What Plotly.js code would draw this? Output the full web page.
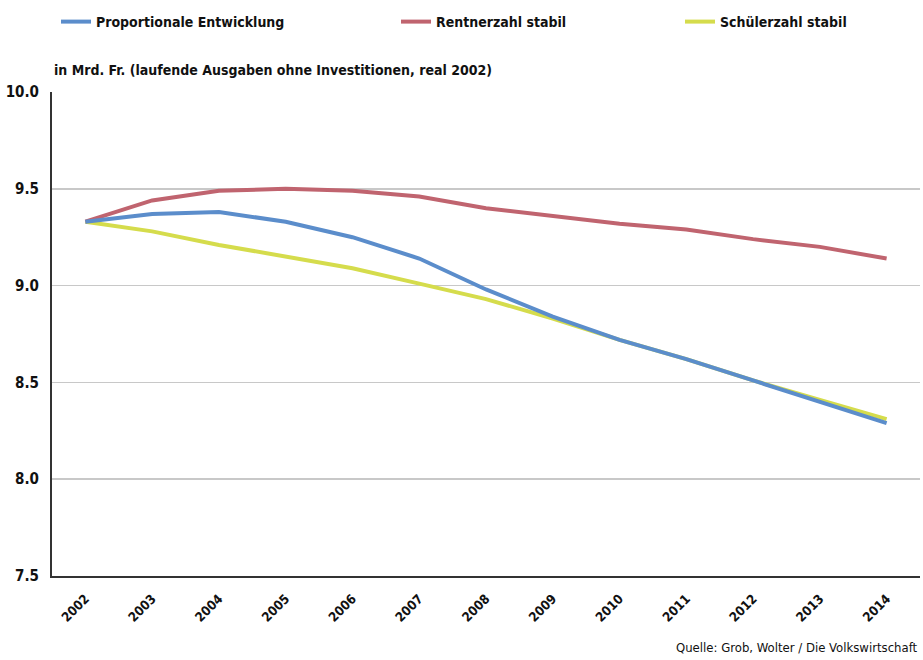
<!DOCTYPE html>
<html>
<head>
<meta charset="utf-8">
<script src="https://cdn.plot.ly/plotly-3.0.1.min.js"></script>
<style>html,body{margin:0;padding:0;background:#fff;}#chart{width:923px;height:660px;}</style>
</head>
<body>
<div id="chart"></div>
<script>
const years = ['2002','2003','2004','2005','2006','2007','2008','2009','2010','2011','2012','2013','2014'];
const proportional = [9.33, 9.37, 9.38, 9.33, 9.25, 9.14, 8.98, 8.84, 8.72, 8.62, 8.51, 8.40, 8.29];
const rentner = [9.33, 9.44, 9.49, 9.50, 9.49, 9.46, 9.40, 9.36, 9.32, 9.29, 9.24, 9.20, 9.14];
const schueler = [9.33, 9.28, 9.21, 9.15, 9.09, 9.01, 8.93, 8.83, 8.72, 8.62, 8.51, 8.41, 8.31];
const seriesNames = ['Proportionale Entwicklung', 'Rentnerzahl stabil', 'Schülerzahl stabil'];
const yTicks = [7.5, 8.0, 8.5, 9.0, 9.5, 10.0];

const FONT = 'DejaVu Sans Condensed, Liberation Sans Narrow, sans-serif';
const colors = ['#5b8dcb', '#c0646f', '#d5dc4c'];

const traces = [
  {x: years, y: schueler, name: seriesNames[2], legend: 'legend3'},
  {x: years, y: rentner, name: seriesNames[1], legend: 'legend2'},
  {x: years, y: proportional, name: seriesNames[0], legend: 'legend'}
].map((t, i) => Object.assign(t, {
  type: 'scatter', mode: 'lines',
  line: {color: [colors[2], colors[1], colors[0]][i], width: 4},
  hoverinfo: 'skip'
}));

const legBase = {
  orientation: 'h', xref: 'container', yref: 'container',
  xanchor: 'left', yanchor: 'middle', y: 1 - 22/660,
  font: {family: FONT, size: 14, color: '#111', weight: 'bold'},
  bgcolor: 'rgba(0,0,0,0)'
};

const layout = {
  width: 923, height: 660,
  margin: {l: 52, r: 3, t: 92, b: 84},
  paper_bgcolor: '#fff', plot_bgcolor: '#fff',
  font: {family: FONT, color: '#111'},
  showlegend: true,
  legend: Object.assign({}, legBase, {x: 56/923}),
  legend2: Object.assign({}, legBase, {x: 396/923}),
  legend3: Object.assign({}, legBase, {x: 680/923}),
  xaxis: {
    type: 'category', tickangle: -45, range: [-0.5, 12.5],
    showgrid: false, zeroline: false,
    showline: true, linecolor: '#333', linewidth: 2,
    ticks: '', ticklabelstandoff: 8,
    tickfont: {family: FONT, size: 13, color: '#111', weight: 'bold'},
    fixedrange: true
  },
  yaxis: {
    range: [7.5, 10.0], tickvals: yTicks, tickformat: '.1f',
    showgrid: true, gridcolor: '#c8c8c8', gridwidth: 1.5,
    zeroline: false, showline: true, linecolor: '#333', linewidth: 2,
    ticks: '', ticklabelstandoff: 8,
    tickfont: {family: FONT, size: 15, color: '#111', weight: 'bold'},
    fixedrange: true
  },
  annotations: [
    {text: 'in Mrd. Fr. (laufende Ausgaben ohne Investitionen, real 2002)',
     xref: 'paper', yref: 'paper', x: 0, y: 1, yshift: 12,
     xanchor: 'left', yanchor: 'bottom', showarrow: false,
     font: {family: FONT, size: 14, color: '#111', weight: 'bold'}},
    {text: 'Quelle: Grob, Wolter / Die Volkswirtschaft',
     xref: 'paper', yref: 'paper', x: 1, y: 0, yshift: -62,
     xanchor: 'right', yanchor: 'top', showarrow: false,
     font: {family: FONT, size: 13, color: '#111'}}
  ]
};

Plotly.newPlot('chart', traces, layout, {displayModeBar: false, staticPlot: true});
</script>
</body>
</html>
